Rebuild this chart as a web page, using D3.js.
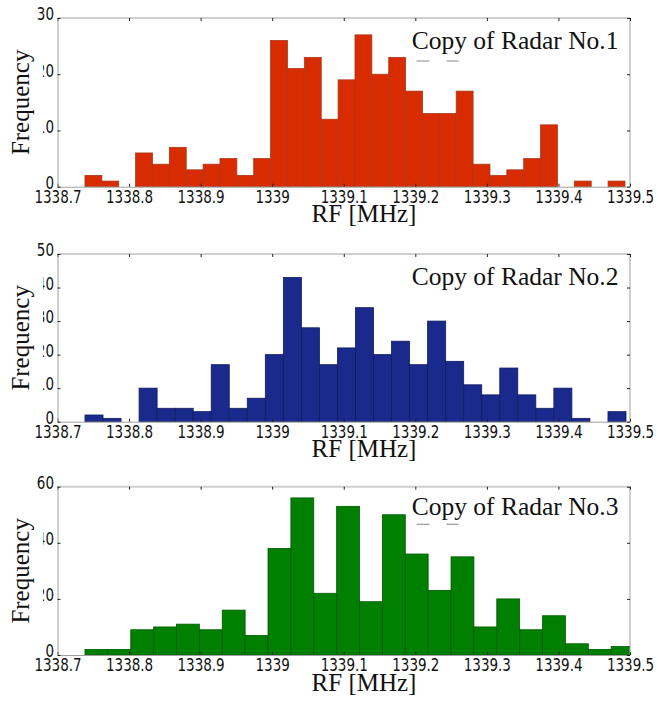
<!DOCTYPE html>
<html>
<head>
<meta charset="utf-8">
<script src="https://cdn.jsdelivr.net/npm/d3@7"></script>
<style>
  body { margin: 0; background: #fff; }
  .tick text { font-family: "DejaVu Sans Condensed", "DejaVu Sans", sans-serif; font-stretch: condensed; font-size: 15px; fill: #111; }
  .serif { font-family: "Liberation Serif", "Times New Roman", serif; fill: #111; }
</style>
</head>
<body>
<svg id="chart"></svg>
<script>
// RF axis ticks (MHz)
const rfTicks = [1338.7, 1338.8, 1338.9, 1339, 1339.1, 1339.2, 1339.3, 1339.4, 1339.5];
const rfDomain = [1338.7, 1339.5];

// histogram bins: common start, per-radar bin width (MHz)
const binStart = 1338.7384;
const binWidth1 = 0.02358;
const binWidth2 = 0.02520;
const binWidth3 = 0.03197;

// counts per bin
const counts1 = [2, 1, 0, 6, 4, 7, 3, 4, 5, 2, 5, 26, 21, 23, 12, 19,
                 27, 20, 23, 17, 13, 13, 17, 4, 2, 3, 5, 11, 0, 1, 0, 1];
const counts2 = [2, 1, 0, 10, 4, 4, 3, 17, 4, 7, 20, 43, 28, 17, 22,
                 34, 20, 24, 17, 30, 18, 11, 8, 16, 8, 4, 10, 1, 0, 3];
const counts3 = [2, 2, 9, 10, 11, 9, 16, 7, 38, 56, 22, 53, 19, 50,
                 36, 23, 35, 10, 20, 9, 14, 4, 2, 3];

const yTicks1 = [0, 10, 20, 30];
const yTicks2 = [0, 10, 20, 30, 40, 50];
const yTicks3 = [0, 20, 40, 60];

const titles = ["Copy of Radar No.1", "Copy of Radar No.2", "Copy of Radar No.3"];

class Histogram {
  constructor(_config, _data) {
    this.config = {
      parent: _config.parent,
      id: _config.id,
      left: _config.left,
      right: _config.right,
      top: _config.top,
      bottom: _config.bottom,
      fill: _config.fill,
      stroke: _config.stroke,
      title: _config.title,
      legendMarks: _config.legendMarks,
      titleDy: _config.titleDy,
      xLabelSize: _config.xLabelSize || 25
    };
    this.data = _data;
    this.initVis();
  }

  initVis() {
    let vis = this;
    const c = vis.config;
    vis.width = c.right - c.left;
    vis.height = c.bottom - c.top;

    vis.xScale = d3.scaleLinear().domain(rfDomain).range([0, vis.width]);
    vis.yScale = d3.scaleLinear()
      .domain([0, d3.max(vis.data.yTicks)])
      .range([vis.height, 0]);

    vis.g = c.parent.append("g")
      .attr("transform", `translate(${c.left},${c.top})`);

    vis.g.append("clipPath").attr("id", `clip${c.id}`)
      .append("rect")
      .attr("width", vis.width)
      .attr("height", vis.height + 1);

    vis.updateVis();
  }

  updateVis() {
    let vis = this;
    const d = vis.data;
    vis.bins = d.counts.map((n, i) => ({
      x0: d.start + i * d.width,
      x1: d.start + (i + 1) * d.width,
      n: n
    }));
    vis.renderVis();
  }

  renderVis() {
    let vis = this;
    const c = vis.config;

    // bars
    vis.g.append("g")
      .attr("clip-path", `url(#clip${c.id})`)
      .selectAll(".bar")
      .data(vis.bins.filter(b => b.n > 0))
      .join("rect")
      .attr("class", "bar")
      .attr("x", b => vis.xScale(b.x0))
      .attr("width", b => vis.xScale(b.x1) - vis.xScale(b.x0))
      .attr("y", b => vis.yScale(b.n))
      .attr("height", b => vis.yScale(0) - vis.yScale(b.n))
      .attr("fill", c.fill)
      .attr("stroke", c.stroke)
      .attr("stroke-width", 0.8);

    // frame lines
    vis.g.append("line")
      .attr("x1", 0).attr("x2", vis.width)
      .attr("y1", 0).attr("y2", 0)
      .attr("stroke", "#cfcfcf").attr("stroke-width", 2);
    vis.g.append("line")
      .attr("x1", vis.width).attr("x2", vis.width)
      .attr("y1", 0).attr("y2", vis.height)
      .attr("stroke", "#a0a0a0").attr("stroke-width", 1);

    // axes
    const xAxis = d3.axisBottom(vis.xScale).tickValues(rfTicks)
      .tickFormat(v => String(v)).tickSizeInner(-3).tickSizeOuter(0).tickPadding(5.5);
    const xTop = d3.axisTop(vis.xScale).tickValues(rfTicks)
      .tickFormat("").tickSizeInner(-3).tickSizeOuter(0);
    const yAxis = d3.axisLeft(vis.yScale).tickValues(vis.data.yTicks)
      .tickSizeInner(-3).tickSizeOuter(0).tickPadding(3.5);
    const yRight = d3.axisRight(vis.yScale).tickValues(vis.data.yTicks)
      .tickFormat("").tickSizeInner(-3).tickSizeOuter(0);

    const styleAxis = (sel) => {
      sel.select(".domain").attr("stroke", "#a0a0a0");
      sel.selectAll(".tick line").attr("stroke", "#222");
    };

    // tick labels in the picture are a bit taller than the font
    vis.g.append("g").attr("transform", `translate(0,${vis.height})`)
      .call(xAxis).call(styleAxis)
      .selectAll(".tick text")
      .attr("y", 3.3)
      .attr("transform", "scale(1,1.18)");
    vis.g.append("g").call(xTop).call(styleAxis)
      .select(".domain").remove();
    vis.g.append("g").call(yAxis).call(styleAxis)
      .selectAll(".tick text")
      .attr("dy", "0.1em")
      .attr("transform", "scale(1,1.18)");
    vis.g.append("g").attr("transform", `translate(${vis.width},0)`)
      .call(yRight).call(styleAxis)
      .select(".domain").remove();

    // y label with white box (hides part of the tick labels, as in the picture)
    const midY = c.top + vis.height / 2;
    c.parent.append("rect")
      .attr("x", 4).attr("y", midY - 62)
      .attr("width", 39).attr("height", 124)
      .attr("fill", "#fff");
    c.parent.append("text")
      .attr("class", "serif")
      .attr("transform", `translate(28.5,${midY}) rotate(-90)`)
      .attr("text-anchor", "middle")
      .style("font-size", "25px")
      .text("Frequency");

    // x label
    c.parent.append("text")
      .attr("class", "serif")
      .attr("x", 364).attr("y", c.bottom + 35.5)
      .attr("text-anchor", "middle")
      .style("font-size", `${c.xLabelSize}px`)
      .text("RF [MHz]");

    // title inside the plot
    vis.g.append("text")
      .attr("class", "serif")
      .attr("x", 561).attr("y", c.titleDy)
      .attr("text-anchor", "end")
      .style("font-size", "25.5px")
      .text(c.title);

    // leftover legend dashes
    if (c.legendMarks) {
      [[359, 372], [389, 401]].forEach(([a, b]) => {
        vis.g.append("line")
          .attr("x1", a).attr("x2", b)
          .attr("y1", c.legendMarks).attr("y2", c.legendMarks)
          .attr("stroke", "#9a9a9a").attr("stroke-width", 1.2);
      });
    }
  }
}

const svg = d3.select("#chart").attr("width", 658).attr("height", 706);

new Histogram(
  { parent: svg, id: 1, left: 57.5, right: 630, top: 18, bottom: 186.7,
    fill: "#d92b00", stroke: "#a8391c", title: titles[0], titleDy: 30.5, legendMarks: 43 },
  { start: binStart, width: binWidth1, counts: counts1, yTicks: yTicks1 }
);
new Histogram(
  { parent: svg, id: 2, left: 57.5, right: 630, top: 254, bottom: 421.7,
    fill: "#1a2a8c", stroke: "#101c5c", title: titles[1], titleDy: 31 },
  { start: binStart, width: binWidth2, counts: counts2, yTicks: yTicks2 }
);
new Histogram(
  { parent: svg, id: 3, left: 57.5, right: 630, top: 486.7, bottom: 655,
    fill: "#007f00", stroke: "#005a00", title: titles[2], titleDy: 28.5, legendMarks: 37.6 },
  { start: binStart, width: binWidth3, counts: counts3, yTicks: yTicks3 }
);
</script>
</body>
</html>
